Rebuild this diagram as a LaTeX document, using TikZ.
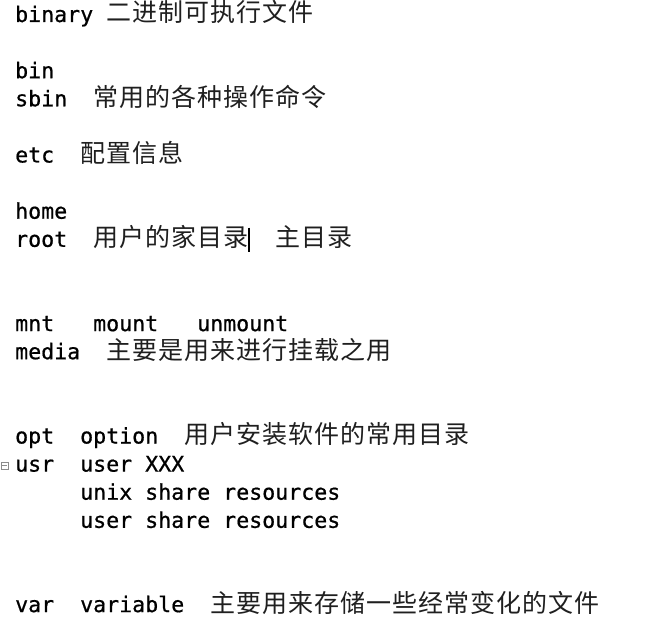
\documentclass[tikz,border=0pt]{standalone}
\usepackage{fontspec}
\setmonofont{DejaVu Sans Mono}[FakeBold=0.7]
\newfontfamily\cjkfont{Noto Sans CJK SC}[LetterSpace=4]
\begin{document}
\begin{tikzpicture}[
            x = 13pt,
            y = -28.1pt,
            word/.style = {
                anchor = base west,
                inner sep = 0pt,
                font = \ttfamily\fontsize{21.6}{26}\selectfont},
            hanzi/.style = {
                word,
                font = \cjkfont\fontsize{25}{30}\selectfont,
                text = black!88},
            fold/.style = {
                draw = black!45,
                line width = 0.6pt}]
        \useasboundingbox (-1.1538,-0.7829) rectangle (48.769,21.708);
        % Place nodes
        \node [word] (binary) at (0,0) {binary};
        \node [hanzi] (binarytxt) at (7,0) {二进制可执行文件};
        \node [word] (bin) at (0,2) {bin};
        \node [word] (sbin) at (0,3) {sbin};
        \node [hanzi] (sbintxt) at (6,3) {常用的各种操作命令};
        \node [word] (etc) at (0,5) {etc};
        \node [hanzi] (etctxt) at (5,5) {配置信息};
        \node [word] (home) at (0,7) {home};
        \node [word] (root) at (0,8) {root};
        \node [hanzi] (roottxt) at (6,8) {用户的家目录};
        \node [hanzi] (rootalt) at (20,8) {主目录};
        \node [word] (mnt) at (0,11) {mnt};
        \node [word] (mount) at (6,11) {mount};
        \node [word] (unmount) at (14,11) {unmount};
        \node [word] (media) at (0,12) {media};
        \node [hanzi] (mediatxt) at (7,12) {主要是用来进行挂载之用};
        \node [word] (opt) at (0,15) {opt};
        \node [word] (option) at (5,15) {option};
        \node [hanzi] (opttxt) at (13,15) {用户安装软件的常用目录};
        \node [word] (usr) at (0,16) {usr};
        \node [word] (userxxx) at (5,16) {user XXX};
        \node [word] (unix) at (5,17) {unix share resources};
        \node [word] (usershare) at (5,18) {user share resources};
        \node [word] (var) at (0,21) {var};
        \node [word] (variable) at (5,21) {variable};
        \node [hanzi] (vartxt) at (15,21) {主要用来存储一些经常变化的文件};

        % Editor marks
        \draw [line width = 1.1pt] (18,7.32) -- (18,8.18);
        \draw [fold] (-1.07,15.66) rectangle (-0.54,15.91);
        \draw [fold] (-0.98,15.785) -- (-0.63,15.785);
    \end{tikzpicture}
\end{document}
